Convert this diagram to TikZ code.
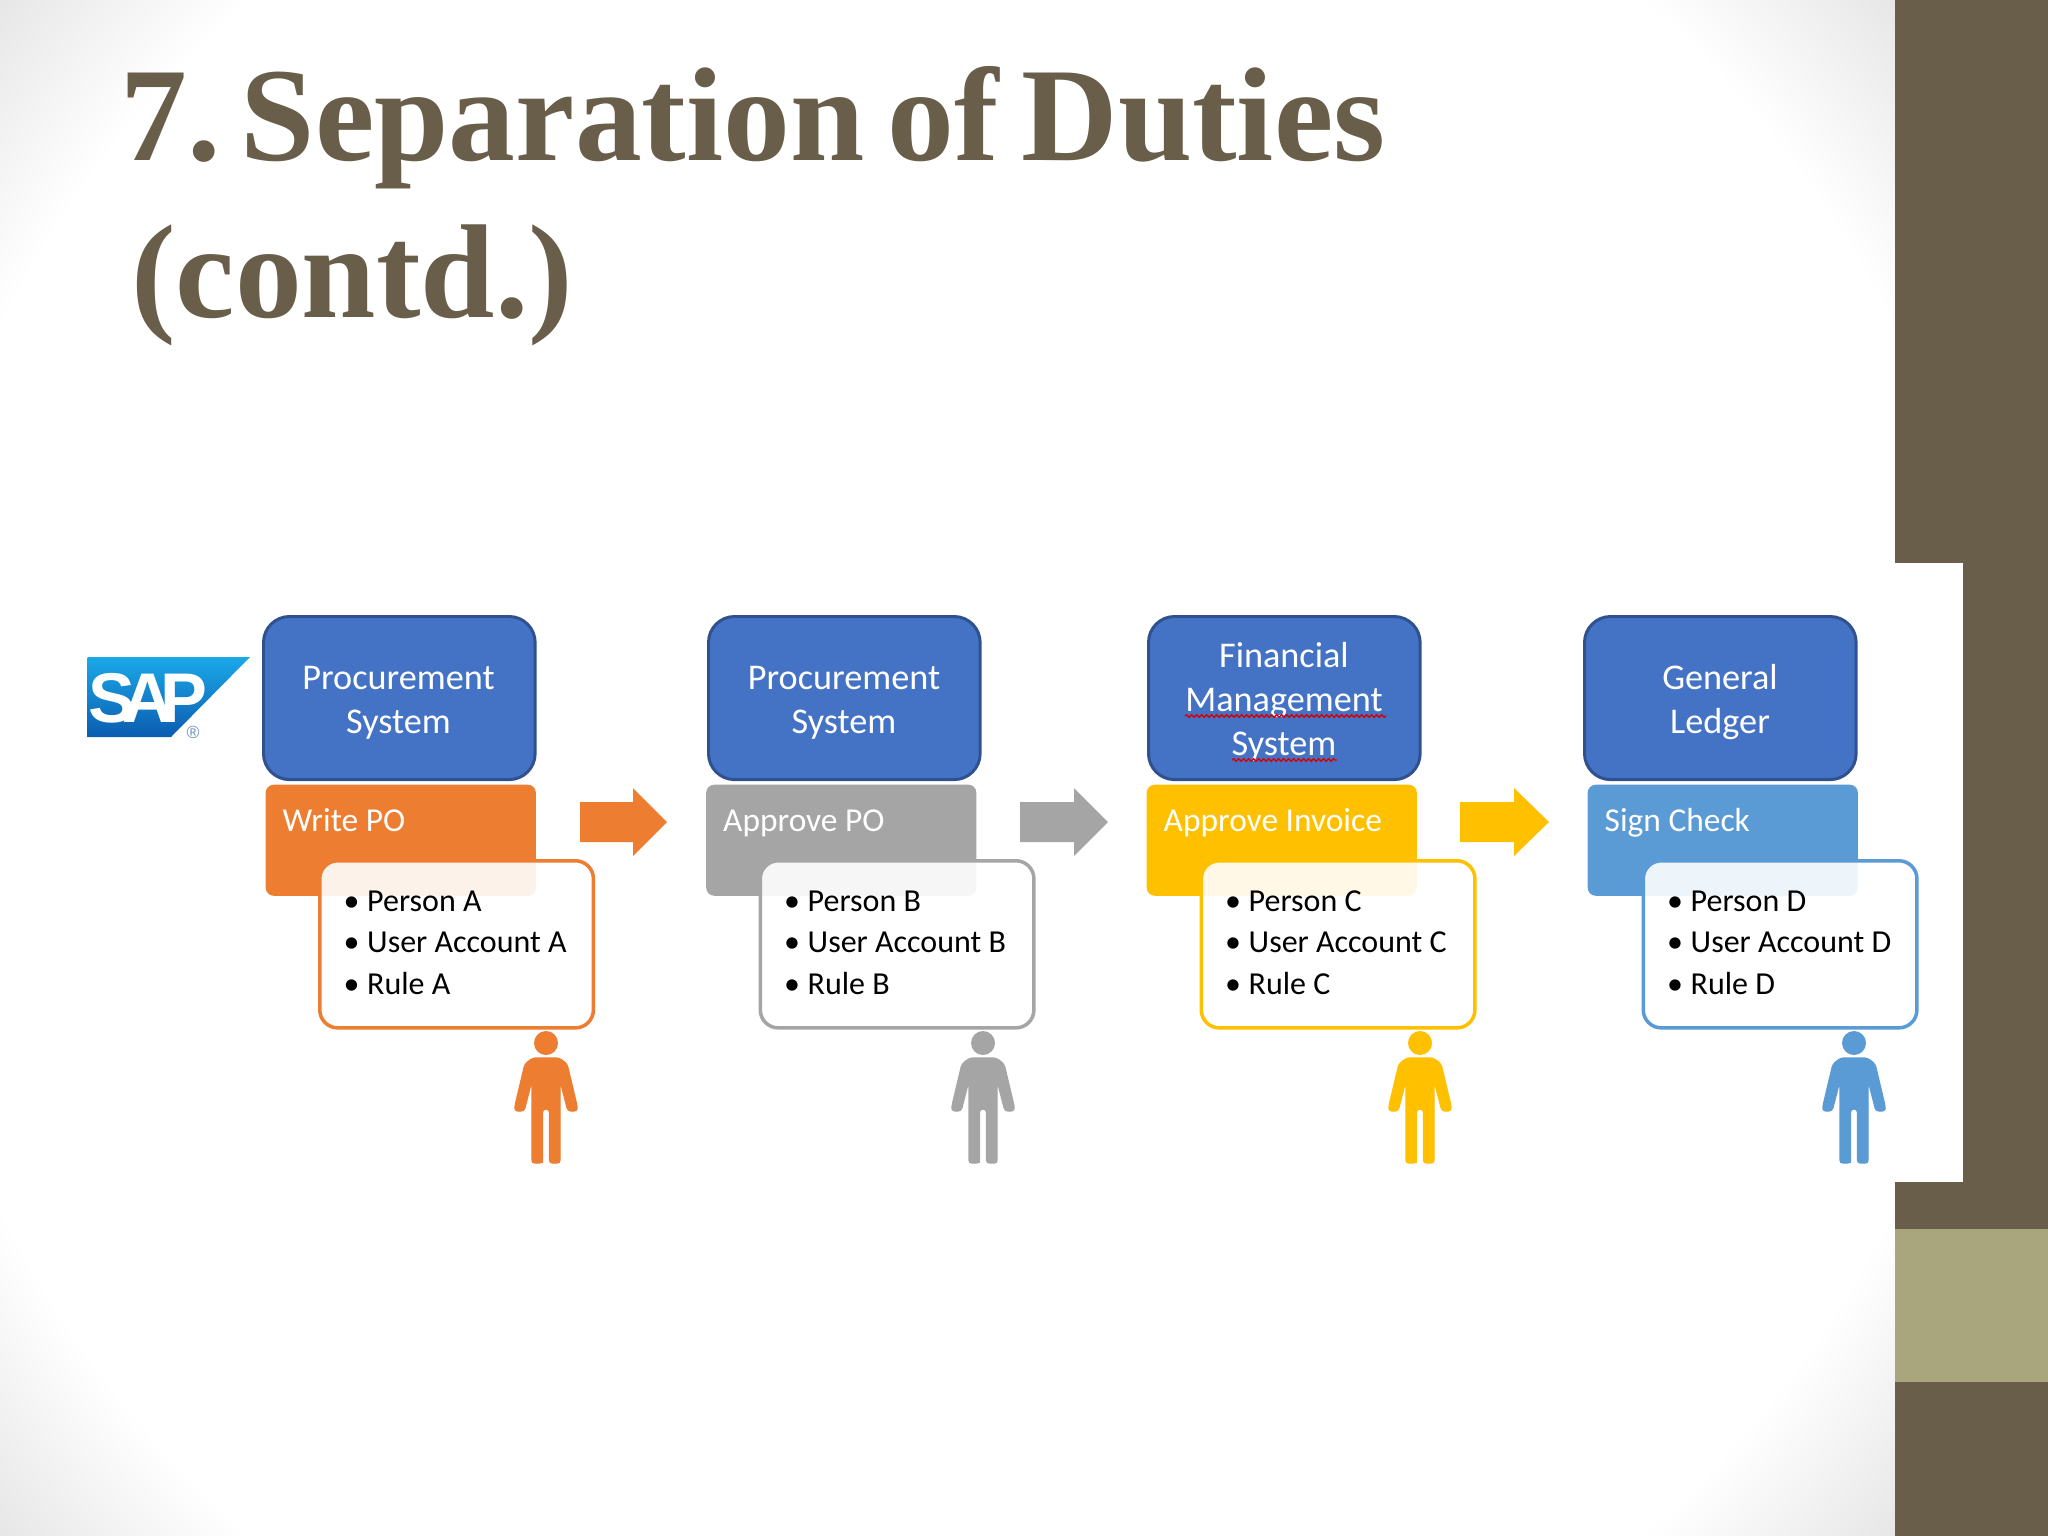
\documentclass[tikz,border=0pt]{standalone}
\usepackage{fontspec}
\setmainfont{Carlito}
\newfontfamily\titlefont{Liberation Serif}[BoldFont={Liberation Serif Bold}]
\newfontfamily\sapfont{Liberation Sans}[BoldFont={Liberation Sans Bold}]
\usetikzlibrary{decorations.pathmorphing}
\definecolor{sidebar}{HTML}{695E4A}
\definecolor{sidelight}{HTML}{A9A57C}
\definecolor{cOrange}{HTML}{ED7D31}
\definecolor{cGray}{HTML}{A5A5A5}
\definecolor{cYellow}{HTML}{FFC000}
\definecolor{cBlue}{HTML}{5B9BD5}
\definecolor{sysBlue}{HTML}{4472C4}
\definecolor{sysEdge}{HTML}{2F528F}
\definecolor{sapTop}{HTML}{1BA9E8}
\definecolor{sapBot}{HTML}{0B5CB0}
\newcommand{\titlefmt}{\titlefont\bfseries\fontsize{38}{44.7}\selectfont\frenchspacing\spaceskip 6.5pt\relax}
\tikzset{
  x=0.01cm, y=-0.01cm,
  sysbox/.style={draw=sysEdge, line width=0.85pt, fill=sysBlue, rounded corners=0.26cm, anchor=north west, inner sep=0pt, minimum width=2.715cm, minimum height=1.63cm},
  taskbox/.style={fill=#1, rounded corners=0.08cm, anchor=north west, inner sep=0pt, minimum width=2.70cm, minimum height=1.11cm},
  infobox/.style={draw=#1, line width=1pt, fill=white, fill opacity=0.9, rounded corners=0.18cm, anchor=north west, inner sep=0pt, minimum width=2.735cm, minimum height=1.67cm},
  systext/.style={anchor=base, inner sep=0pt, text=white, font=\fontsize{10.3}{12.6}\selectfont},
  tasktext/.style={anchor=base west, inner sep=0pt, text=white, font=\fontsize{9.5}{12}\selectfont},
  listtext/.style={anchor=base west, inner sep=0pt, text=black, font=\fontsize{9.1}{12}\selectfont},
  squiggle/.style={draw=red!85!black, line width=0.4pt, decorate, decoration={snake, amplitude=0.012cm, segment length=0.05cm}}
}
% id, task box left, info box left, colour, task, person letter
\newcommand{\dutycol}[6]{%
  \node[taskbox=#4] (task#1) at (#2,784) {};
  \node[tasktext] (tasklabel#1) at (#2+17,831) {#5};
  \node[infobox=#4] (info#1) at (#3,859) {};
  \node[listtext] (bulA#1) at (#3+25,911.5) {•};
  \node[listtext] (person#1) at (#3+48.5,911.5) {Person #6};
  \node[listtext] (bulB#1) at (#3+25,952) {•};
  \node[listtext] (account#1) at (#3+48.5,952) {User Account #6};
  \node[listtext] (bulC#1) at (#3+25,994) {•};
  \node[listtext] (rule#1) at (#3+48.5,994) {Rule #6};
}
% centre x, colour
\newcommand{\dutyman}[2]{%
  \begin{scope}[shift={(#1,0)}]
    \fill[#2] (0,1043) circle[radius=12];
    \fill[#2, line join=round, draw=#2, line width=0.4pt, rounded corners=0.03cm]
      (-13,1058) -- (13,1058) -- (21,1064) -- (31,1106) -- (31,1111) -- (22,1111) -- (14,1080)
      -- (14,1163) -- (3.5,1163) -- (3.5,1109) -- (-3.5,1109) -- (-3.5,1163) -- (-14,1163)
      -- (-14,1080) -- (-22,1111) -- (-31,1111) -- (-31,1106) -- (-21,1064) -- cycle;
    \fill[#2] (-14,1140) rectangle (-3.5,1163);
    \fill[#2] (3.5,1140) rectangle (14,1163);
  \end{scope}
}
% left, neck, right, colour
\newcommand{\dutyarrow}[4]{%
  \fill[#4] (#1,802) -- (#2,802) -- (#2,788) -- (#3,822) -- (#2,856) -- (#2,842) -- (#1,842) -- cycle;
}
\begin{document}
\begin{tikzpicture}
\useasboundingbox (0,0) rectangle (2048,1536);
% slide background: white centre, grey towards the corners
\begin{scope}
  \clip (0,0) rectangle (1895,1536);
  \foreach \s in {1.05,1.0575,...,1.24}
    \fill[black, fill opacity=0.0045, even odd rule] (0,0) rectangle (1895,1536) (947,768) ellipse[x radius=1000*\s, y radius=980*\s];
\end{scope}
\fill[sidebar] (1895,0) rectangle (2048,1536);
\fill[sidelight] (1895,1229) rectangle (2048,1382);
\fill[white] (60,563) rectangle (1963,1182);

\node[anchor=north west, inner sep=0pt, align=left, text=sidebar, font=\titlefmt] (title) at (120,66) {7.\kern 5.7pt Separation of Duties\\\hspace*{3pt}(contd.)};

% SAP logo
\shade[top color=sapTop, bottom color=sapBot] (87.5,657) -- (250,657) -- (171,737) -- (87.5,737) -- cycle;
\node[anchor=base west, inner sep=0pt, text=white, font=\sapfont\bfseries\fontsize{20}{20}\selectfont] (saplogo) at (88,722) {S\kern-3.7ptA\kern-3.7ptP};
\node[anchor=center, inner sep=0pt, text=cBlue!70!gray, font=\sapfont\fontsize{5}{5}\selectfont] (sapmark) at (193,732) {®};

% systems
\node[sysbox] (sysA) at (262,615) {};
\node[sysbox] (sysB) at (707,615) {};
\node[sysbox] (sysC) at (1147,615) {};
\node[sysbox] (sysD) at (1583,615) {};
\node[systext] (sysAa) at (398.5,689.5) {Procurement};
\node[systext] (sysAb) at (398.5,733.5) {System};
\node[systext] (sysBa) at (844,689.5) {Procurement};
\node[systext] (sysBb) at (844,733.5) {System};
\node[systext] (sysCa) at (1284,667) {Financial};
\node[systext] (sysCb) at (1284,711) {Management};
\node[systext] (sysCc) at (1284,755) {System};
\node[systext] (sysDa) at (1720,689.5) {General};
\node[systext] (sysDb) at (1720,733.5) {Ledger};
\draw[squiggle] (1185,716) -- (1386,716);
\draw[squiggle] (1232,760) -- (1337,760);

\dutycol{A}{265}{318}{cOrange}{Write PO}{A}
\dutycol{B}{705.5}{758.5}{cGray}{Approve PO}{B}
\dutycol{C}{1146}{1199.5}{cYellow}{Approve Invoice}{C}
\dutycol{D}{1587}{1641.5}{cBlue}{Sign Check}{D}

\dutyarrow{580}{633}{667}{cOrange}
\dutyarrow{1020}{1074}{1108}{cGray}
\dutyarrow{1460}{1514}{1549}{cYellow}

\dutyman{546}{cOrange}
\dutyman{983}{cGray}
\dutyman{1420}{cYellow}
\dutyman{1854}{cBlue}
\end{tikzpicture}
\end{document}
